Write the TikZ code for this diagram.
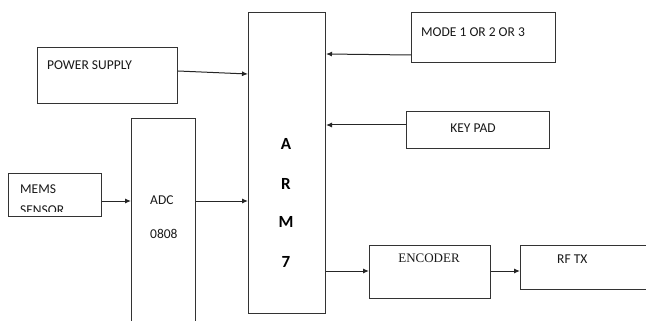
\documentclass[tikz,border=0pt]{standalone}
\usepackage{fontspec}
\setmainfont{Carlito}
\newfontfamily\encfont{Liberation Serif}
\usetikzlibrary{arrows.meta}
\begin{document}
\begin{tikzpicture}[x=1pt,y=-1pt,
  blk/.style={draw=black!80,line width=1pt,rectangle,inner sep=0pt,anchor=north west},
  lbl/.style={font=\fontsize{13.5}{15}\selectfont,inner sep=0pt,anchor=west,text=black!90},
  armtxt/.style={font=\fontsize{17}{19}\selectfont\bfseries,inner sep=0pt},
  conn/.style={draw=black!85,line width=1pt,-{Latex[length=6pt,width=5pt]}}]
\useasboundingbox (0,0) rectangle (646,321);
\clip (0,0) rectangle (646,321);
\fill[white] (0,0) rectangle (646,321);
% boxes
\node[blk,minimum width=140pt,minimum height=56pt] (ps) at (37,47) {};
\node[blk,minimum width=77pt,minimum height=300pt] (arm) at (248,12.5) {};
\node[blk,minimum width=144pt,minimum height=50pt] (mode) at (411,12.5) {};
\node[blk,minimum width=143pt,minimum height=37pt] (key) at (406,111) {};
\node[blk,minimum width=93pt,minimum height=43pt] (mems) at (8,173) {};
\node[blk,minimum width=64pt,minimum height=230pt] (adc) at (131,118) {};
\node[blk,minimum width=121pt,minimum height=53pt] (enc) at (369,245) {};
\node[blk,minimum width=140pt,minimum height=44pt] (rf) at (520,245) {};
% texts
\node[lbl] (tps) at (47,65) {POWER SUPPLY};
\node[lbl] (tmode) at (421,32) {MODE 1 OR 2 OR 3};
\node[lbl,anchor=center] (tkey) at (473,128) {KEY PAD};
\node[lbl] (tmems) at (20,189) {MEMS};
\begin{scope}
\clip (8,173) rectangle (101,211);
\node[lbl] (tsens) at (20,210) {SENSOR};
\end{scope}
\node[lbl] (tadc) at (150,200) {ADC};
\node[lbl] (tadcn) at (150,234) {0808};
\node[armtxt] (ta) at (286,144) {A};
\node[armtxt] (tr) at (286,184) {R};
\node[armtxt] (tm) at (286,222) {M};
\node[armtxt] (t7) at (286,262) {7};
\node[lbl,anchor=center,font=\encfont\fontsize{13}{15}\selectfont] (tenc) at (429,258) {ENCODER};
\node[lbl] (trf) at (557,259) {RF TX};
% connectors
\draw[conn] ([yshift=-24pt]ps.north east) -- ([yshift=-61.5pt]arm.north west);
\draw[conn] ([yshift=-42.5pt]mode.north west) -- ([yshift=-41.5pt]arm.north east);
\draw[conn] ([yshift=-14pt]key.north west) -- ([yshift=-112.5pt]arm.north east);
\draw[conn] ([yshift=-28pt]mems.north east) -- ([yshift=-83pt]adc.north west);
\draw[conn] ([yshift=-83pt]adc.north east) -- ([yshift=-188.5pt]arm.north west);
\draw[conn] ([yshift=-258.5pt]arm.north east) -- ([yshift=-26pt]enc.north west);
\draw[conn] ([yshift=-26pt]enc.north east) -- ([yshift=-26pt]rf.north west);
\end{tikzpicture}
\end{document}
